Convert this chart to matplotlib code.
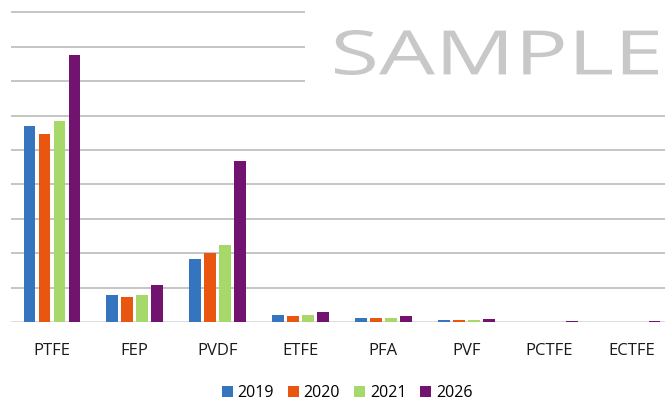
import numpy as np
import matplotlib
matplotlib.use('Agg')
import matplotlib.pyplot as plt
from matplotlib.patches import Patch, Rectangle, PathPatch
from matplotlib.textpath import TextPath
from matplotlib.font_manager import FontProperties
from matplotlib.transforms import Affine2D

# data (in gridline units)
categories = ['PTFE', 'FEP', 'PVDF', 'ETFE', 'PFA', 'PVF', 'PCTFE', 'ECTFE']
years = ['2019', '2020', '2021', '2026']
v2019 = [5.69, 0.78, 1.83, 0.19, 0.12, 0.07, 0.01, 0.005]
v2020 = [5.47, 0.73, 2.00, 0.17, 0.12, 0.07, 0.01, 0.005]
v2021 = [5.84, 0.78, 2.23, 0.20, 0.13, 0.07, 0.01, 0.005]
v2026 = [7.76, 1.08, 4.69, 0.29, 0.17, 0.09, 0.03, 0.02]
colors = ['#3574BE', '#E8560F', '#A6D86A', '#71136F']

W, H = 665, 400
fig = plt.figure(figsize=(W / 100, H / 100), dpi=100)
# axes placed in pixel terms; right side runs past the picture edge
ax = fig.add_axes([10.5 / W, (H - 322) / H, 663 / W, 9.2 * 34.4 / H])

x = np.arange(len(categories))
step = 0.181
width = 0.141
for i, (vals, c) in enumerate(zip([v2019, v2020, v2021, v2026], colors)):
    ax.bar(x + (i - 1.5) * step, vals, width, color=c, zorder=3)

ax.set_xlim(-0.5, len(categories) - 0.5)
ax.set_ylim(0, 9.2)
for g in range(1, 10):
    ax.axhline(g, color='#C0C0C0', lw=1.3, zorder=1)
ax.axhline(0, color='#D9D9D9', lw=1.3, zorder=2)

for s in ax.spines.values():
    s.set_visible(False)
ax.set_yticks([])
ax.set_xticks(x)
ax.set_xticklabels(categories, fontsize=12, color='#1a1a1a', family='Open Sans')
ax.tick_params(axis='x', length=0, pad=15)

# white box under the watermark hides the top gridlines on the right
fig.patches.append(Rectangle((305 / W, 1 - 97 / H), 1 - 305 / W, 97 / H,
                             transform=fig.transFigure, facecolor='white',
                             edgecolor='none', zorder=5))
# watermark is a stretched wordmark: fit the text outline to its pixel box
tp = TextPath((0, 0), 'SAMPLE', size=1, prop=FontProperties(family='Open Sans'))
ext = tp.get_extents()
x0, x1, ytop, ybot = 335, 658, 30, 75      # pixel box of the word
sx = (x1 - x0) / ext.width
sy = (ybot - ytop) / ext.height
tr = Affine2D().translate(-ext.x0, -ext.y0).scale(sx, sy).translate(x0, H - ybot)
fig.patches.append(PathPatch(tp, transform=tr, facecolor='#C8C8C8',
                             edgecolor='none', zorder=6))

handles = [Patch(facecolor=c, edgecolor='none') for c in colors]
fig.legend(handles, years, loc='center', bbox_to_anchor=(347 / W, 1 - 393 / H),
           ncol=4, frameon=False, prop={'family': 'Open Sans', 'size': 11.5},
           handlelength=0.7, handleheight=0.7, handletextpad=0.3,
           columnspacing=0.85, borderpad=0)

fig.savefig('out.png', dpi=100)
plt.close(fig)
